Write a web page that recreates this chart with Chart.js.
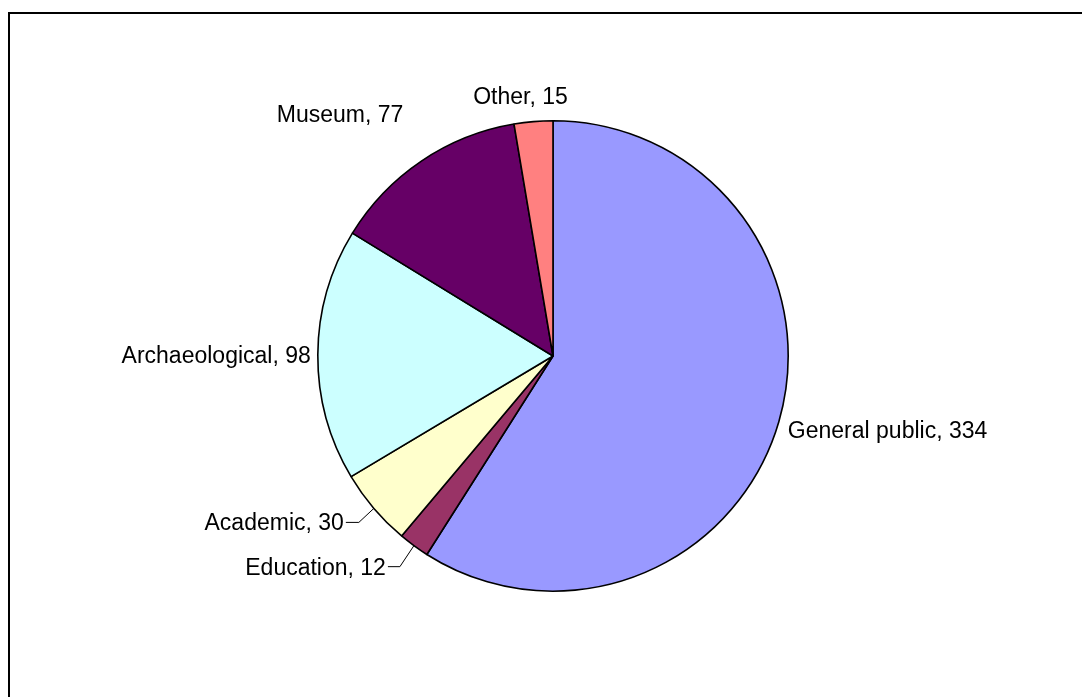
<!DOCTYPE html>
<html>
<head>
<meta charset="utf-8">
<script src="https://cdn.jsdelivr.net/npm/chart.js@4/dist/chart.umd.min.js"></script>
<style>
  html, body { margin: 0; padding: 0; background: #fff; }
  #wrap { width: 1082px; height: 697px; }
</style>
</head>
<body>
<div id="wrap"><canvas id="c" width="1082" height="697"></canvas></div>
<script>
// ---- data ----
const categories = ["General public", "Education", "Academic", "Archaeological", "Museum", "Other"];
const values = [334, 12, 30, 98, 77, 15];
const colors = ["#9999FF", "#993366", "#FFFFCC", "#CCFFFF", "#660066", "#FF8080"];

// ---- label layout (offsets from each slice's outer mid-point) ----
const labelOffsets = [
  { dx: 9, dy: 10, align: "left", leader: null },
  { dx: -28, dy: 23, align: "right", leader: [[-14, 21], [-26, 21]] },
  { dx: -30, dy: 15, align: "right", leader: [[-15, 14], [-28, 14]] },
  { dx: -7, dy: 2, align: "right", leader: null },
  { dx: -18, dy: -45, align: "right", leader: null },
  { dx: -13, dy: -24, align: "center", leader: null }
];
const FONT = '23px "Liberation Sans", Arial, sans-serif';

const framePlugin = {
  id: "frame",
  beforeDraw(chart) {
    const ctx = chart.ctx;
    ctx.save();
    ctx.fillStyle = "#fff";
    ctx.fillRect(0, 0, chart.width, chart.height);
    ctx.strokeStyle = "#000";
    ctx.lineWidth = 2;
    ctx.beginPath();
    ctx.moveTo(9, chart.height + 5);
    ctx.lineTo(9, 13);
    ctx.lineTo(chart.width + 5, 13);
    ctx.stroke();
    ctx.restore();
  }
};

const labelPlugin = {
  id: "outLabels",
  afterDatasetsDraw(chart) {
    const ctx = chart.ctx;
    const meta = chart.getDatasetMeta(0);
    ctx.save();
    ctx.font = FONT;
    ctx.fillStyle = "#000";
    ctx.strokeStyle = "#000";
    ctx.lineWidth = 1;
    ctx.textBaseline = "middle";
    meta.data.forEach((arc, i) => {
      const p = arc.getProps(["x", "y", "startAngle", "endAngle", "outerRadius"], true);
      const mid = (p.startAngle + p.endAngle) / 2;
      const ox = p.x + Math.cos(mid) * p.outerRadius;
      const oy = p.y + Math.sin(mid) * p.outerRadius;
      const L = labelOffsets[i];
      const text = categories[i] + ", " + values[i];
      if (L.leader) {
        ctx.beginPath();
        ctx.moveTo(ox, oy);
        L.leader.forEach(pt => ctx.lineTo(ox + pt[0], oy + pt[1]));
        ctx.stroke();
      }
      ctx.textAlign = L.align;
      ctx.fillText(text, ox + L.dx, oy + L.dy);
    });
    ctx.restore();
  }
};

new Chart(document.getElementById("c"), {
  type: "pie",
  data: {
    labels: categories,
    datasets: [{
      data: values,
      backgroundColor: colors,
      borderColor: "#000",
      borderWidth: 1.6
    }]
  },
  options: {
    responsive: false,
    animation: false,
    devicePixelRatio: 1,
    layout: { padding: { left: 317, right: 293, top: 120, bottom: 105 } },
    plugins: { legend: { display: false }, tooltip: { enabled: false } }
  },
  plugins: [framePlugin, labelPlugin]
});
</script>
</body>
</html>
